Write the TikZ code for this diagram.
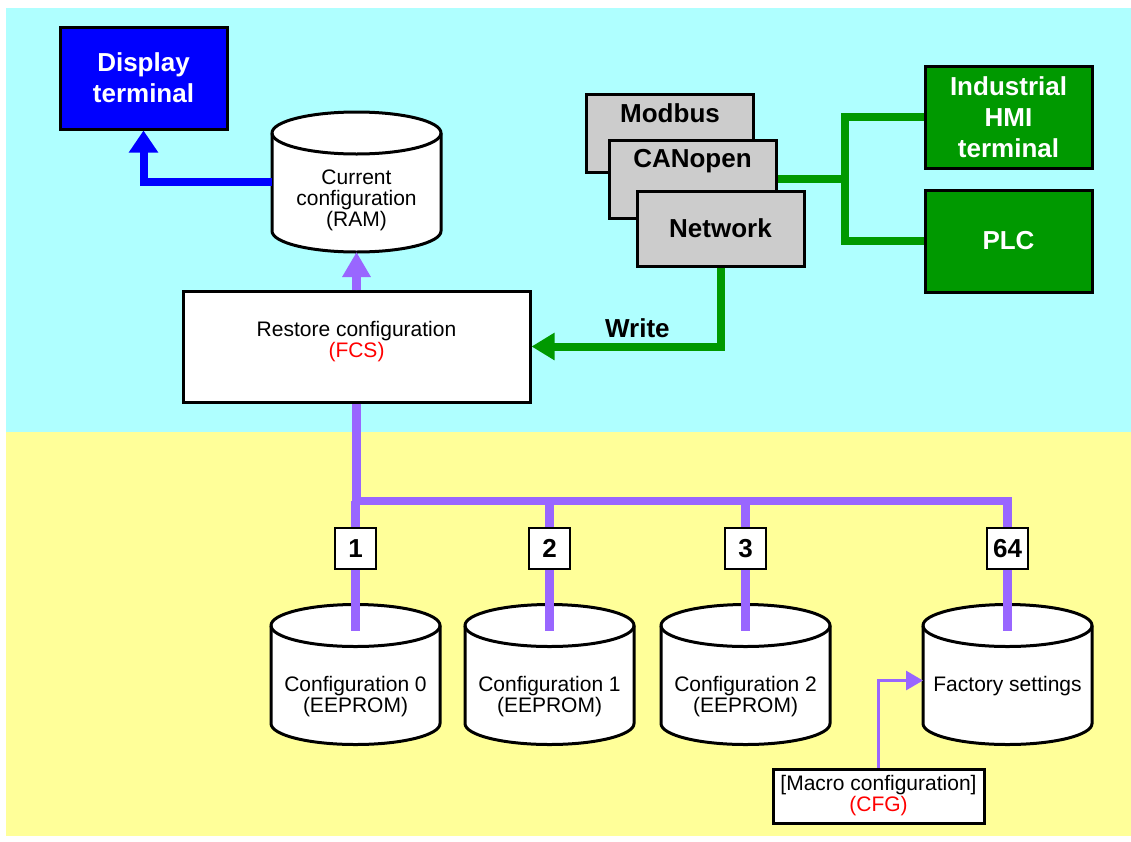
\documentclass[tikz,border=0pt]{standalone}
\usepackage{fontspec}
\setmainfont{Liberation Sans}
\usetikzlibrary{arrows.meta,positioning}
\definecolor{skycyan}{RGB}{175,255,255}
\definecolor{paleyel}{RGB}{255,255,153}
\definecolor{hmigreen}{RGB}{0,153,0}
\definecolor{netgray}{RGB}{204,204,204}
\definecolor{cfgpurple}{RGB}{153,102,255}
\tikzset{
  blk/.style={draw,rectangle,line width=3pt,align=center,inner sep=0pt},
  bigtxt/.style={font=\fontsize{26}{31}\selectfont\bfseries,align=center},
  smltxt/.style={font=\fontsize{21}{21}\selectfont,align=center},
  dispblk/.style={blk,bigtxt,fill=blue,text=white,minimum width=167pt,minimum height=102pt},
  grnblk/.style={blk,bigtxt,fill=hmigreen,text=white,minimum width=167pt,minimum height=102pt},
  netblk/.style={blk,fill=netgray,minimum width=167pt},
  whtblk/.style={blk,smltxt,fill=white},
  numblk/.style={blk,bigtxt,fill=white,line width=1.3pt,minimum size=41pt},
  cylbox/.style={rectangle,inner sep=0pt,outer sep=0pt,minimum width=169pt,minimum height=140pt},
  cylline/.style={draw,line width=3pt,fill=white},
  barr/.style={blue,line width=8pt,-{Triangle[width=28pt,length=22pt]}},
  parr/.style={cfgpurple,line width=8.5pt,-{Triangle[width=27pt,length=25pt]}},
  pline/.style={cfgpurple,line width=8.5pt},
  thinparr/.style={cfgpurple,line width=3pt,-{Triangle[width=19pt,length=17pt]}},
  gline/.style={hmigreen,line width=8pt},
  garr/.style={gline,-{Triangle[width=26pt,length=23pt]}}
}

\begin{document}
\begin{tikzpicture}[x=1pt,y=-1pt]
  \useasboundingbox (0,0) rectangle (1131,841);
  \fill[skycyan] (6,8) rectangle (1131,432);
  \fill[paleyel] (6,432) rectangle (1131,836);

  % top half
  \node[dispblk] (disp) at (143.5,78) {Display\\terminal};
  \node[cylbox] (ram) at (356.5,182) {};
  \node[whtblk,minimum width=347pt,minimum height=111pt] (restore) at (356.5,346.5) {};
  \node[smltxt] (restoret) at ([yshift=5pt]restore.center) {Restore configuration\\\textcolor{red}{(FCS)}};

  \node[netblk,minimum height=78pt] (mod) at (670,133) {};
  \node[bigtxt] (modt) at ([yshift=-21pt]mod.north) {Modbus};
  \node[netblk,minimum height=78pt] (can) at (692.5,179) {};
  \node[bigtxt] (cant) at ([yshift=-23pt]can.north) {CANopen};
  \node[netblk,bigtxt,minimum height=75pt] (net) at (720.5,228.5) {Network};

  \node[grnblk] (hmi) at (1008.5,117) {Industrial\\HMI\\terminal};
  \node[grnblk] (plc) at (1008.5,241) {PLC};

  % bottom half
  \node[cylbox] (c0) at (355.5,674.5) {};
  \node[cylbox,right=25pt of c0] (c1) {};
  \node[cylbox,right=27pt of c1] (c2) {};
  \node[cylbox,right=93pt of c2] (cf) {};
  \node[whtblk,minimum width=211pt,minimum height=54pt] (macro) at (878.5,796) {[Macro configuration]\\\textcolor{red}{(CFG)}};

  % drums
  \foreach \c in {ram,c0,c1,c2,cf} {
    \draw[cylline] ([yshift=-21pt]\c.north west) -- ([yshift=21pt]\c.south west)
      arc[start angle=180,end angle=360,x radius=84.5pt,y radius=21pt]
      -- ([yshift=-21pt]\c.north east)
      arc[start angle=0,end angle=180,x radius=84.5pt,y radius=21pt] -- cycle;
    \draw[line width=3pt] ([yshift=-21pt]\c.north west)
      arc[start angle=180,end angle=360,x radius=84.5pt,y radius=21pt];
  }
  \node[smltxt] (ramt) at ([yshift=-18pt]ram.center) {Current\\configuration\\(RAM)};
  \foreach \c/\t in {c0/Configuration 0,c1/Configuration 1,c2/Configuration 2}
    \node[smltxt] (\c t) at ([yshift=-22pt]\c.center) {\t\\(EEPROM)};
  \node[smltxt] (cft) at ([yshift=-12pt]cf.center) {Factory settings};

  % links
  \coordinate (gj) at (845,179);
  \coordinate (bus) at (0,501);
  \draw[barr] (ram.west) -| (disp.south);
  \draw[gline] (can.east) -- (gj);
  \draw[gline] (hmi.west) -| (gj) |- (plc.west);
  \draw[garr] (net.south) |- node[bigtxt,text=black,pos=0.72,above=1pt] (wrt) {Write} (restore.east);
  \draw[parr] (restore.north) -- (ram.south);
  \draw[pline] (restore.south) |- (cf.center |- bus) -- ([yshift=-26pt]cf.north);
  \foreach \c in {c0,c1,c2}
    \draw[pline] (\c.center |- bus) -- ([yshift=-26pt]\c.north);
  \draw[thinparr] (macro.north) |- ([yshift=-6pt]cf.west);

  \node[numblk,above=35pt of c0] (n1) {1};
  \node[numblk,above=35pt of c1] (n2) {2};
  \node[numblk,above=35pt of c2] (n3) {3};
  \node[numblk,above=35pt of cf] (n64) {64};
\end{tikzpicture}
\end{document}
